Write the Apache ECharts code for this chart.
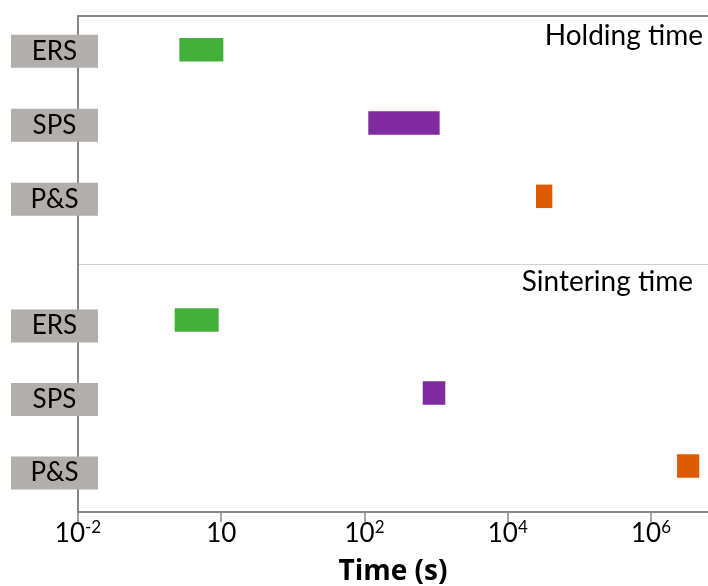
<!DOCTYPE html>
<html>
<head>
<meta charset="utf-8">
<script src="https://cdn.jsdelivr.net/npm/echarts@6/dist/echarts.min.js"></script>
<style>
html, body { margin: 0; padding: 0; background: #fff; }
#chart { width: 708px; height: 586px; }
</style>
</head>
<body>
<div id="chart"></div>
<script>
// ---- data ----
const methods = ['ERS', 'SPS', 'P&S'];
const holdStart = [0.26, 113, 24800];
const holdEnd = [1.07, 1120, 41900];
const sinterStart = [0.224, 650, 2310000];
const sinterEnd = [0.92, 1343, 4720000];
const methodColors = ['#43b03a', '#7f2aa0', '#e05a00'];
const sectionTitles = ['Holding time', 'Sintering time'];
const tickValues = [0.01, 1, 100, 10000, 1000000];
const tickLabels = ['10^-2', '10', '10^2', '10^4', '10^6'];
const axisTitle = 'Time (s)';
const xMin = 0.01;
const xMax = 6250000;

const FONT = 'Lato, "Open Sans", sans-serif';
const AXIS_GREY = '#878787';

function toRich(lbl) {
  const parts = lbl.split('^');
  return parts.length > 1 ? '{b|' + parts[0] + '}{s|' + parts[1] + '}' : '{b|' + parts[0] + '}';
}

function barData(starts, ends) {
  return methods.map((m, i) => ({
    value: [starts[i], ends[i], m],
    itemStyle: { color: methodColors[i] }
  }));
}

function renderBar(params, api) {
  const cat = api.value(2);
  const p0 = api.coord([api.value(0), cat]);
  const p1 = api.coord([api.value(1), cat]);
  const h = 23.5;
  return {
    type: 'rect',
    shape: { x: p0[0], y: p0[1] - h / 2, width: p1[0] - p0[0], height: h },
    style: api.style()
  };
}

const hiddenLogX = (gi) => ({
  type: 'log', logBase: 10, min: xMin, max: xMax, gridIndex: gi, show: false
});

const labelYAxis = (gi) => ({
  type: 'category', data: methods, inverse: true, gridIndex: gi,
  axisLine: { show: false }, axisTick: { show: false }, splitLine: { show: false },
  axisLabel: {
    margin: 23.5, align: 'center', verticalAlign: 'middle',
    width: 87, height: 33, lineHeight: 33,
    backgroundColor: '#b1aeac', color: '#000',
    fontFamily: FONT, fontSize: 26
  },
  z: 10
});

const G = { left: 78, right: 0, containLabel: false, outerBoundsMode: 'none' };

const option = {
  animation: false,
  backgroundColor: '#fff',
  title: [
    { text: sectionTitles[0], right: 0, top: 17,
      textStyle: { fontFamily: FONT, fontSize: 28, fontWeight: 'normal', color: '#000' } },
    { text: sectionTitles[1], right: 10, top: 263,
      textStyle: { fontFamily: FONT, fontSize: 28, fontWeight: 'normal', color: '#000' } }
  ],
  grid: [
    Object.assign({ top: 16, bottom: 74 }, G),        // frame
    Object.assign({ top: 13, height: 220 }, G),       // upper bars
    Object.assign({ top: 283.5, height: 219 }, G),    // lower bars
    Object.assign({ top: 14.3, height: 222 }, G),     // upper labels
    Object.assign({ top: 289.25, height: 220.5 }, G)  // lower labels
  ],
  xAxis: [
    {
      type: 'log', logBase: 10, min: xMin, max: xMax, gridIndex: 0, position: 'bottom', z: 5,
      axisLine: { show: true, lineStyle: { color: AXIS_GREY, width: 2 } },
      axisTick: { show: true, inside: false, length: 10, customValues: tickValues,
        lineStyle: { color: AXIS_GREY, width: 1.5 } },
      splitLine: { show: false },
      minorTick: { show: false },
      axisLabel: {
        customValues: tickValues, margin: 7,
        formatter: (v) => {
          const e = Math.round(Math.log10(v));
          const idx = tickValues.findIndex(t => Math.round(Math.log10(t)) === e);
          return idx >= 0 ? toRich(tickLabels[idx]) : '';
        },
        rich: {
          b: { fontFamily: FONT, fontSize: 26, lineHeight: 30, color: '#000' },
          s: { fontFamily: FONT, fontSize: 17, lineHeight: 18, color: '#000', verticalAlign: 'top' }
        }
      },
      name: axisTitle, nameLocation: 'middle', nameGap: 46,
      nameTextStyle: { fontFamily: '"Open Sans", Lato, sans-serif', fontSize: 28, fontWeight: 'bold', color: '#000' }
    },
    {
      type: 'log', logBase: 10, min: xMin, max: xMax, gridIndex: 0, position: 'top', z: 5,
      axisLine: { show: true, lineStyle: { color: AXIS_GREY, width: 2 } },
      axisTick: { show: false }, axisLabel: { show: false }, splitLine: { show: false }
    },
    hiddenLogX(1),
    hiddenLogX(2),
    { type: 'value', gridIndex: 3, show: false },
    { type: 'value', gridIndex: 4, show: false }
  ],
  yAxis: [
    {
      type: 'value', min: 0, max: 2, interval: 1, gridIndex: 0, z: 0,
      axisLine: { show: true, lineStyle: { color: AXIS_GREY, width: 2 } },
      axisTick: { show: false }, axisLabel: { show: false },
      splitLine: { show: true, lineStyle: { color: '#d0d0d0', width: 1 } }
    },
    { type: 'category', data: methods, inverse: true, gridIndex: 1, show: false },
    { type: 'category', data: methods, inverse: true, gridIndex: 2, show: false },
    labelYAxis(3),
    labelYAxis(4)
  ],
  series: [
    {
      type: 'custom', name: sectionTitles[0], xAxisIndex: 2, yAxisIndex: 1,
      renderItem: renderBar, encode: { x: [0, 1], y: 2 },
      data: barData(holdStart, holdEnd)
    },
    {
      type: 'custom', name: sectionTitles[1], xAxisIndex: 3, yAxisIndex: 2,
      renderItem: renderBar, encode: { x: [0, 1], y: 2 },
      data: barData(sinterStart, sinterEnd)
    }
  ]
};

const chart = echarts.init(document.getElementById('chart'), null, { renderer: 'canvas' });
chart.setOption(option);
</script>
</body>
</html>
